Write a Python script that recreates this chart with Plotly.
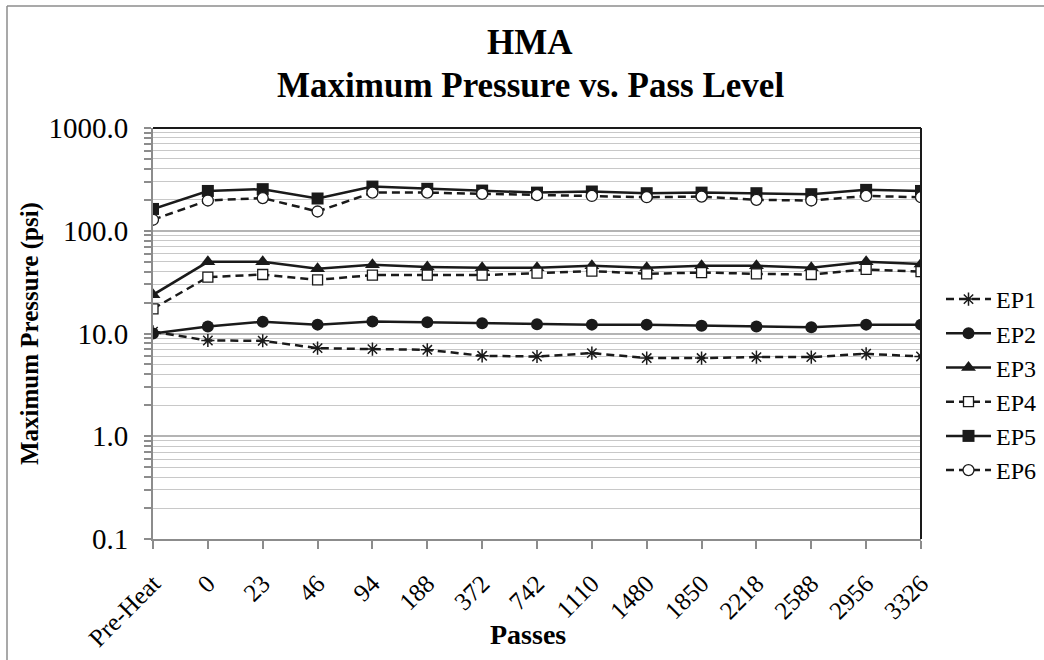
import plotly.graph_objects as go

categories = ["Pre-Heat", "0", "23", "46", "94", "188", "372", "742", "1110",
              "1480", "1850", "2218", "2588", "2956", "3326"]
ep1 = [10.4, 8.55, 8.5, 7.2, 7.05, 6.94, 6.07, 5.97, 6.44, 5.77, 5.77, 5.89, 5.89, 6.35, 5.97]
ep2 = [10.0, 11.7, 13.0, 12.2, 13.1, 12.9, 12.6, 12.3, 12.2, 12.2, 11.9, 11.7, 11.5, 12.2, 12.2]
ep3 = [23.8, 49.8, 49.8, 42.6, 46.6, 44.5, 43.6, 43.6, 45.6, 43.6, 45.6, 45.6, 43.6, 49.8, 47.6]
ep4 = [17.4, 35.4, 37.5, 33.3, 37.0, 37.0, 37.0, 38.7, 40.5, 38.1, 39.2, 38.1, 37.5, 42.0, 40.0]
ep5 = [163, 244, 254, 206, 269, 256, 246, 235, 241, 232, 235, 232, 227, 250, 244]
ep6 = [128, 197, 208, 154, 235, 235, 229, 222, 218, 212, 215, 200, 197, 218, 212]

y_tickvals = [0.1, 1, 10, 100, 1000]
y_ticktext = ["0.1", "1.0", "10.0", "100.0", "1000.0"]

series = [
    ("EP1", ep1, "dash", dict(symbol="asterisk-open", size=11, color="#1a1a1a", line=dict(color="#1a1a1a", width=1.5))),
    ("EP2", ep2, "solid", dict(symbol="circle", size=12, color="#1a1a1a")),
    ("EP3", ep3, "solid", dict(symbol="triangle-up", size=13, color="#1a1a1a")),
    ("EP4", ep4, "dash", dict(symbol="square", size=10, color="white", line=dict(color="#1a1a1a", width=1.3))),
    ("EP5", ep5, "solid", dict(symbol="square", size=12, color="#1a1a1a")),
    ("EP6", ep6, "dash", dict(symbol="circle", size=11, color="white", line=dict(color="#1a1a1a", width=1.3))),
]

FONT = "Liberation Serif, Times New Roman, serif"

fig = go.Figure()
for name, vals, dash, marker in series:
    fig.add_trace(go.Scatter(
        x=categories, y=vals, name=name, mode="lines+markers",
        line=dict(color="#1a1a1a", width=2.5, dash=("8px,5px" if dash == "dash" else "solid")),
        marker=marker,
    ))

minor_vals = [k * 10 ** e for e in range(-1, 3) for k in range(2, 10)]

W, H = 1044, 660
L, R, T, B = 153, 123, 128, 121
pw, ph = W - L - R, H - T - B

def px(xp):
    return (xp - L) / pw

def py(yp):
    return (H - B - yp) / ph

fig.update_layout(
    width=W, height=H,
    margin=dict(l=L, r=R, t=T, b=B, autoexpand=False),
    paper_bgcolor="white", plot_bgcolor="white",
    font=dict(family=FONT, size=26, color="black"),
    showlegend=True,
    legend=dict(x=px(941), xanchor="left", y=py(385), yanchor="middle",
                font=dict(family=FONT, size=24), itemwidth=45,
                bgcolor="rgba(0,0,0,0)", tracegroupgap=0),
    xaxis=dict(type="category", categoryorder="array", categoryarray=categories,
               range=[0, len(categories) - 1], tickangle=-45, automargin=False,
               showline=True, linecolor="#8c8c8c", linewidth=2,
               ticks="outside", ticklen=8, tickcolor="#8c8c8c", tickwidth=1.5,
               ticklabelstandoff=10,
               showgrid=False, zeroline=False,
               tickfont=dict(family=FONT, size=25)),
    yaxis=dict(type="log", range=[-1, 3], tickvals=y_tickvals, ticktext=y_ticktext,
               automargin=False,
               showline=True, linecolor="#8c8c8c", linewidth=2,
               ticks="outside", ticklen=7, tickcolor="#8c8c8c", tickwidth=1.5,
               ticklabelstandoff=10,
               showgrid=True, gridcolor="#b4b4b4", gridwidth=1.5, zeroline=False,
               tickfont=dict(family=FONT, size=29),
               minor=dict(tickvals=minor_vals, ticks="outside", ticklen=7,
                          tickcolor="#8c8c8c", showgrid=True, gridcolor="#c8c8c8", gridwidth=1.3)),
)

# plot-area border (top and right, black)
fig.add_shape(type="line", xref="paper", yref="paper", x0=0, x1=1, y0=1, y1=1,
              line=dict(color="#1a1a1a", width=2), layer="above")
fig.add_shape(type="line", xref="paper", yref="paper", x0=1, x1=1, y0=0, y1=1,
              line=dict(color="#1a1a1a", width=2), layer="above")
# outer chart border (left and top visible)
fig.add_shape(type="line", xref="paper", yref="paper", x0=px(7), x1=px(W + 5), y0=py(6), y1=py(6),
              line=dict(color="#8c8c8c", width=1.5))
fig.add_shape(type="line", xref="paper", yref="paper", x0=px(7), x1=px(7), y0=py(6), y1=py(H + 5),
              line=dict(color="#8c8c8c", width=1.5))

# title lines
fig.add_annotation(text="<b>HMA</b>", xref="paper", yref="paper",
                   x=px(530), y=py(42), showarrow=False, xanchor="center", yanchor="middle",
                   font=dict(family=FONT, size=35, color="black"))
fig.add_annotation(text="<b>Maximum Pressure vs. Pass Level</b>", xref="paper", yref="paper",
                   x=px(530), y=py(85), showarrow=False, xanchor="center", yanchor="middle",
                   font=dict(family=FONT, size=35, color="black"))

fig.add_annotation(text="<b>Maximum Pressure (psi)</b>", xref="paper", yref="paper",
                   x=px(30), y=py(334), textangle=-90, showarrow=False,
                   xanchor="center", yanchor="middle",
                   font=dict(family=FONT, size=25, color="black"))
fig.add_annotation(text="<b>Passes</b>", xref="paper", yref="paper",
                   x=px(528), y=py(634), showarrow=False,
                   xanchor="center", yanchor="middle",
                   font=dict(family=FONT, size=28, color="black"))

fig.write_html("out.html", config={"displayModeBar": False},
               post_script="document.body.style.margin='0';document.body.style.padding='0';"
                           "document.documentElement.style.overflow='hidden';")
